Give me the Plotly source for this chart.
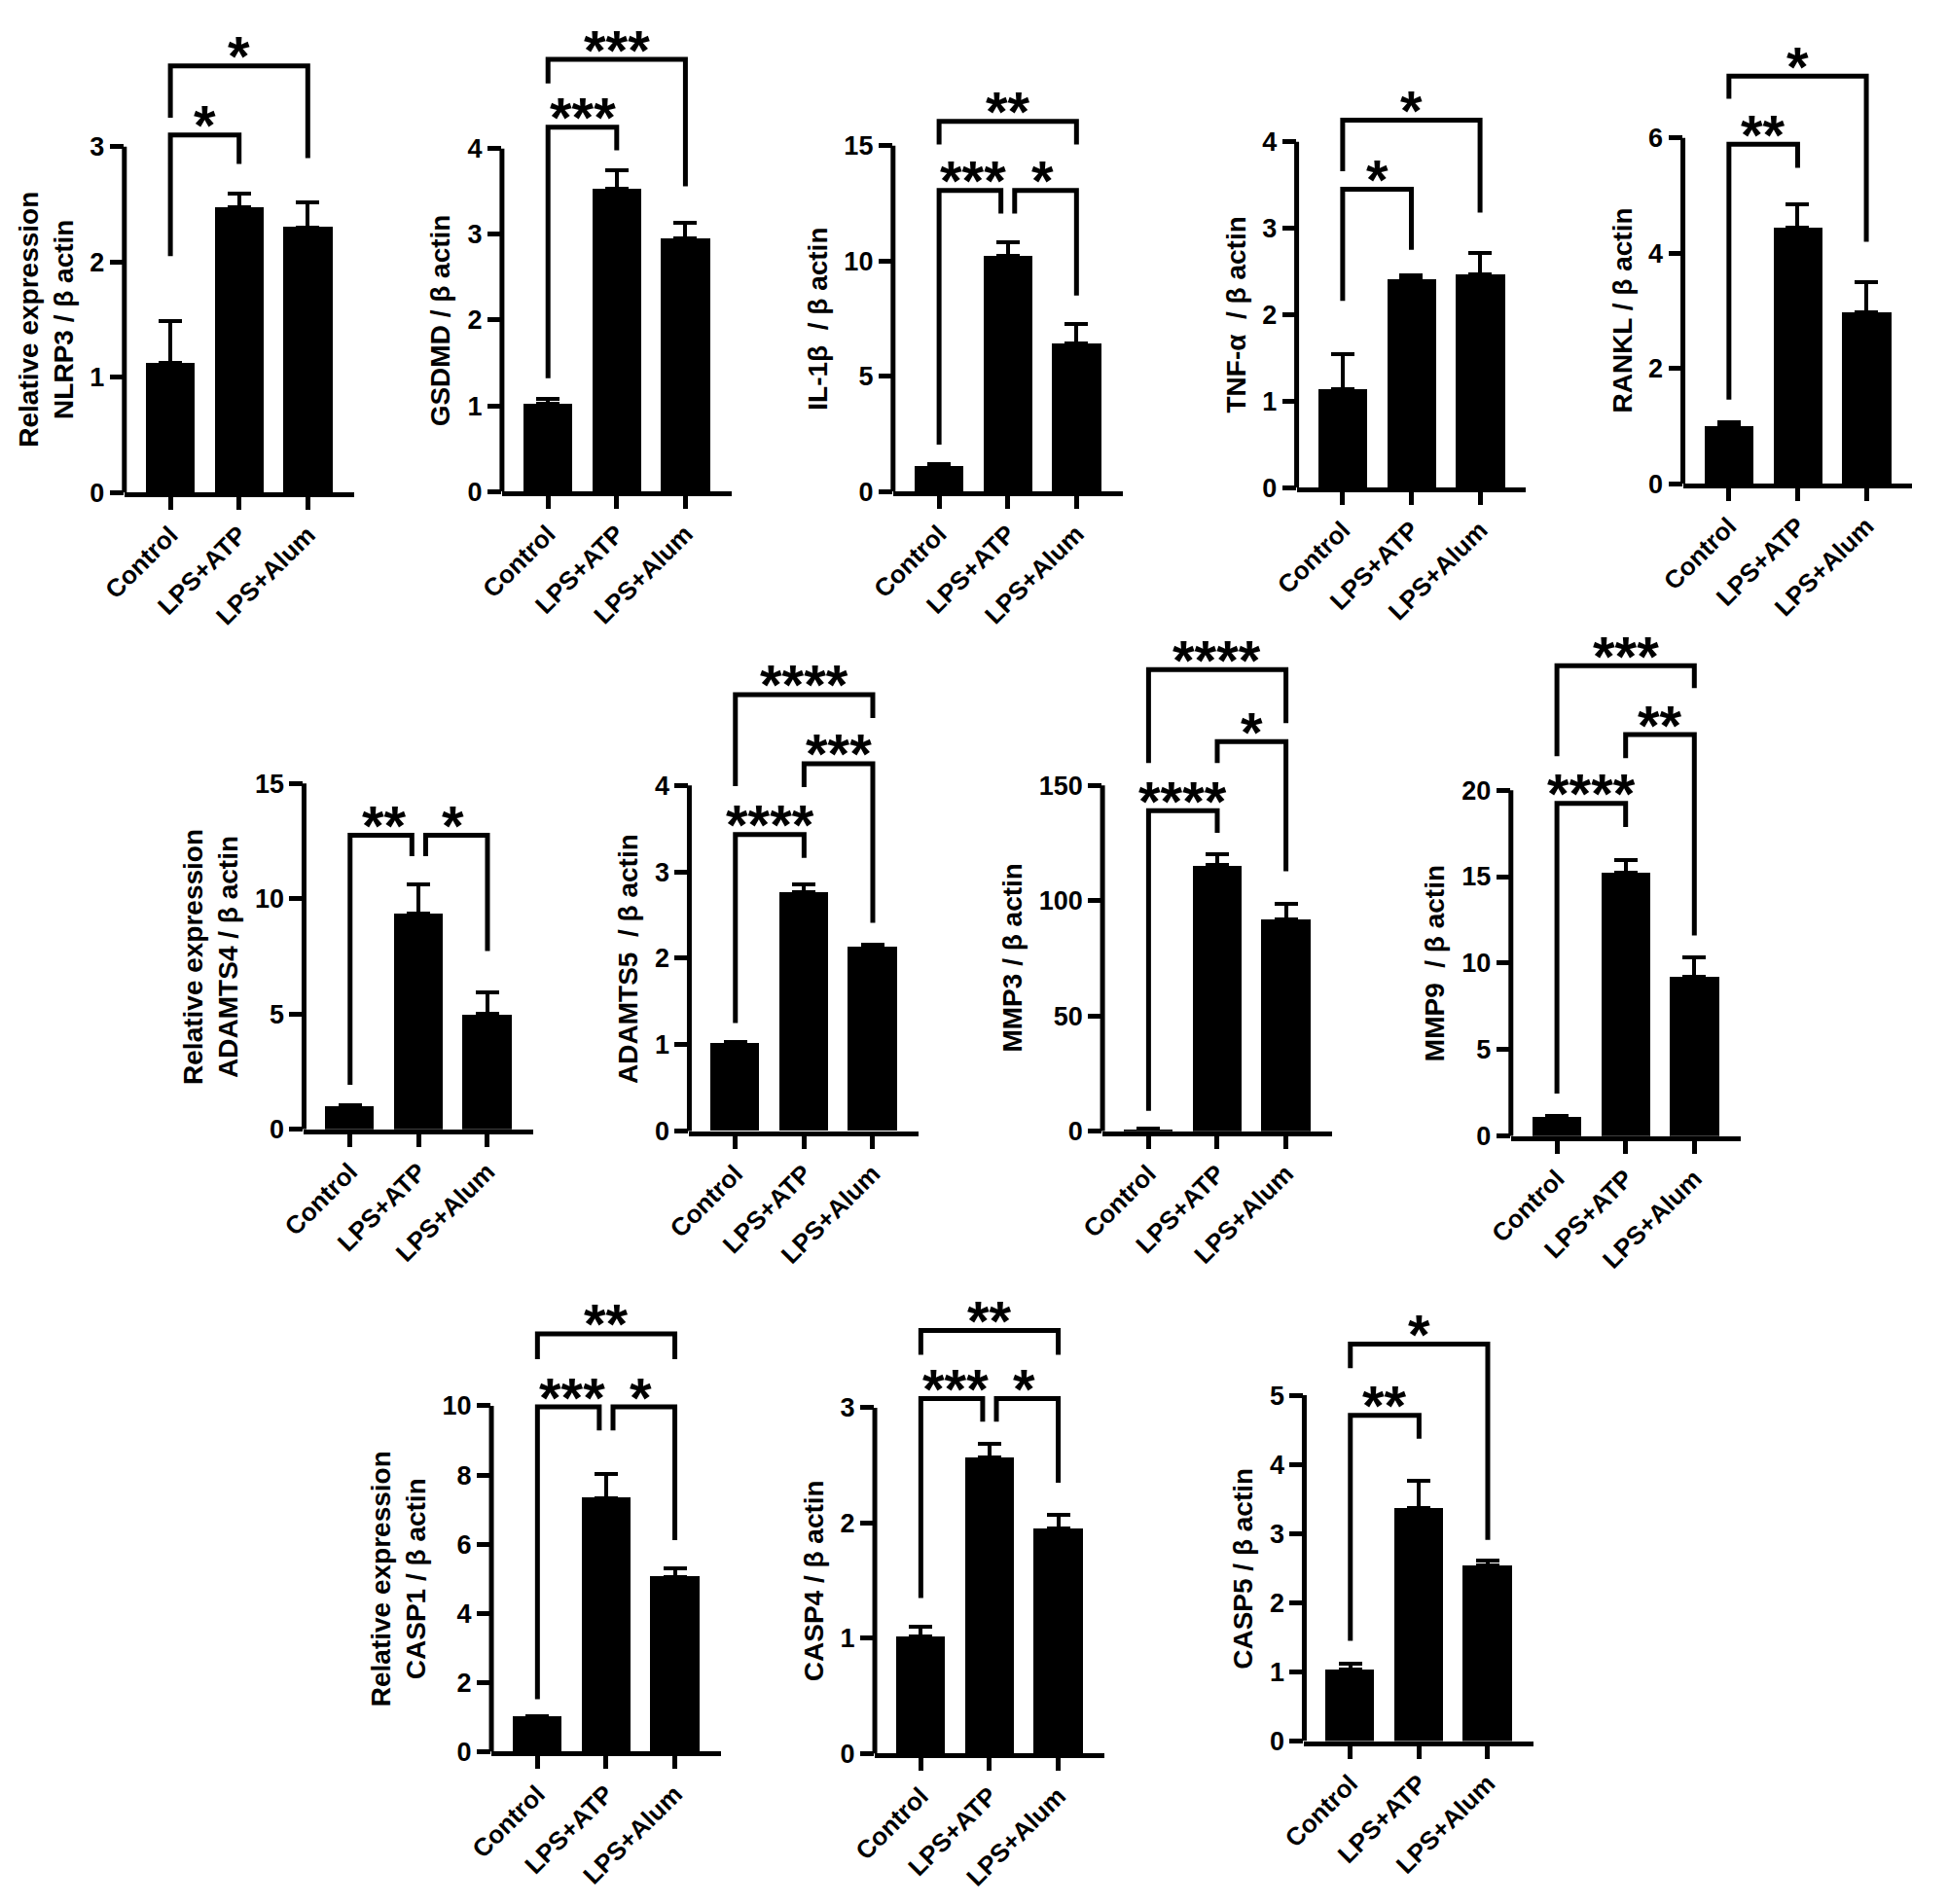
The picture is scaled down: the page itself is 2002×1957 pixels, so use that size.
import plotly.graph_objects as go

W, H = 2002, 1957
groups = ["Control", "LPS+ATP", "LPS+Alum"]

# bar means and upper error
nlrp3 = [1.12, 2.47, 2.30]
nlrp3_err = [0.37, 0.12, 0.22]
gsdmd = [1.02, 3.53, 2.95]
gsdmd_err = [0.06, 0.22, 0.19]
il1b = [1.10, 10.2, 6.40]
il1b_err = [0.10, 0.60, 0.85]
tnfa = [1.14, 2.41, 2.47]
tnfa_err = [0.40, 0.05, 0.24]
rankl = [1.01, 4.45, 2.98]
rankl_err = [0.05, 0.39, 0.52]
adamts4 = [1.00, 9.36, 5.00]
adamts4_err = [0.06, 1.28, 0.93]
adamts5 = [1.02, 2.76, 2.13]
adamts5_err = [0.01, 0.10, 0.03]
mmp3 = [1.0, 115.3, 92.0]
mmp3_err = [0.3, 4.7, 6.6]
mmp9 = [1.10, 15.24, 9.21]
mmp9_err = [0.08, 0.70, 1.10]
casp1 = [1.01, 7.33, 5.06]
casp1_err = [0.02, 0.70, 0.25]
casp4 = [1.02, 2.57, 1.95]
casp4_err = [0.08, 0.12, 0.12]
casp5 = [1.03, 3.37, 2.54]
casp5_err = [0.09, 0.40, 0.07]

# significance brackets: (group a, group b, bracket level, leg end a, leg end b, label)
nlrp3_sig = [(0, 1, 3.10, 2.05, 2.85, "*"), (0, 2, 3.70, 3.25, 2.90, "*")]
gsdmd_sig = [(0, 1, 4.25, 1.32, 3.98, "***"), (0, 2, 5.04, 4.76, 3.56, "***")]
il1b_sig = [(0, 1, 13.06, 2.03, 12.05, "***"), (1, 2, 13.06, 12.05, 8.5, "*"),
            (0, 2, 16.05, 15.05, 15.05, "**")]
tnfa_sig = [(0, 1, 3.45, 2.16, 2.75, "*"), (0, 2, 4.25, 3.66, 3.18, "*")]
rankl_sig = [(0, 1, 5.89, 1.46, 5.48, "**"), (0, 2, 7.07, 6.68, 4.20, "*")]
adamts4_sig = [(0, 1, 12.75, 1.93, 11.84, "**"), (1, 2, 12.75, 11.84, 7.73, "*")]
adamts5_sig = [(0, 1, 3.43, 1.25, 3.16, "****"), (1, 2, 4.25, 3.98, 2.41, "***"),
               (0, 2, 5.05, 3.99, 4.78, "****")]
mmp3_sig = [(0, 1, 139, 8.8, 129.4, "****"), (1, 2, 169, 159.7, 112.7, "*"),
            (0, 2, 200.2, 159.7, 177, "****")]
mmp9_sig = [(0, 1, 19.23, 2.46, 17.87, "****"), (1, 2, 23.21, 21.85, 11.6, "**"),
            (0, 2, 27.2, 21.97, 25.9, "***")]
casp1_sig = [(0, 1, 9.97, 1.52, 9.29, "***"), (1, 2, 9.97, 9.29, 6.12, "*"),
             (0, 2, 12.08, 11.35, 11.35, "**")]
casp4_sig = [(0, 1, 3.08, 1.35, 2.88, "***"), (1, 2, 3.08, 2.88, 2.35, "*"),
             (0, 2, 3.67, 3.46, 3.46, "**")]
casp5_sig = [(0, 1, 4.71, 1.45, 4.37, "**"), (0, 2, 5.74, 5.39, 2.91, "*")]

NB = "\u00a0"
# (y title, means, errors, brackets, top tick, tick step)
panels = [
    ("Relative expression<br>NLRP3 / β actin", nlrp3, nlrp3_err, nlrp3_sig, 3, 1),
    ("GSDMD / β actin", gsdmd, gsdmd_err, gsdmd_sig, 4, 1),
    ("IL-1β" + NB + " / β actin", il1b, il1b_err, il1b_sig, 15, 5),
    ("TNF-α" + NB + " / β actin", tnfa, tnfa_err, tnfa_sig, 4, 1),
    ("RANKL / β actin", rankl, rankl_err, rankl_sig, 6, 2),
    ("Relative expression<br>ADAMTS4 / β actin", adamts4, adamts4_err, adamts4_sig, 15, 5),
    ("ADAMTS5" + NB + " / β actin", adamts5, adamts5_err, adamts5_sig, 4, 1),
    ("MMP3 / β actin", mmp3, mmp3_err, mmp3_sig, 150, 50),
    ("MMP9" + NB + " / β actin", mmp9, mmp9_err, mmp9_sig, 20, 5),
    ("Relative expression<br>CASP1 / β actin", casp1, casp1_err, casp1_sig, 10, 2),
    ("CASP4 / β actin", casp4, casp4_err, casp4_sig, 3, 1),
    ("CASP5 / β actin", casp5, casp5_err, casp5_sig, 5, 1),
]

# pixel position of each panel: y-axis line x, zero line y
origins = [(126, 507), (519, 506), (926, 506), (1346, 502), (1748, 498),
           (313, 1168), (714, 1170), (1144, 1170), (1569, 1175),
           (508, 1814), (907, 1816), (1354, 1803)]
# the page draws the figure a little right/down of the window corner
DX, DY = -30, -8

AX_H = 359          # px from 0 to top tick
CAT_PX = 71.5       # px per group
XR = [-0.67, 2.67]
GAP = 0.1

TXT = "Liberation Sans, Arial, sans-serif"
NUM = "Liberation Sans Narrow, Arial Narrow, Liberation Sans, Arial, sans-serif"

fig = go.Figure()
layout = {}
annotations = []
shapes = []

for n, ((title, mean, err, sig, tmax, dt), (xl, y0)) in enumerate(zip(panels, origins), start=1):
    sfx = "" if n == 1 else str(n)
    xa, ya = "x" + sfx, "y" + sfx
    xl, y0 = xl + DX, y0 + DY
    ppu = AX_H / tmax
    ymax = max(max(b[2] for b in sig) + 50 / ppu, tmax * 1.03)
    wpx = (XR[1] - XR[0]) * CAT_PX
    layout["xaxis" + sfx] = dict(
        domain=[xl / W, (xl + wpx) / W], anchor=ya, range=XR,
        tickvals=[0, 1, 2], ticktext=groups, tickangle=-45,
        showline=True, linewidth=5, linecolor="black",
        ticks="outside", ticklen=13, tickwidth=5, tickcolor="black",
        showgrid=False, zeroline=False,
        tickfont=dict(family=TXT, size=26, color="black", weight="bold"),
    )
    layout["yaxis" + sfx] = dict(
        domain=[1 - y0 / H, min(1, 1 - (y0 - ymax * ppu) / H)], anchor=xa,
        range=[0, ymax], tickvals=list(range(0, tmax + 1, dt)),
        showline=False, ticks="outside", ticklen=14, tickwidth=5, tickcolor="black",
        showgrid=False, zeroline=False,
        tickfont=dict(family=NUM, size=27, color="black", weight="bold"),
    )
    # y axis line only up to the top tick
    shapes.append(dict(type="line", xref=xa + " domain", yref=ya, x0=0, x1=0,
                       y0=0, y1=tmax, line=dict(color="black", width=5)))

    fig.add_trace(go.Bar(
        x=[0, 1, 2], y=mean, width=0.71, xaxis=xa, yaxis=ya,
        marker=dict(color="black", line=dict(width=0)),
        error_y=dict(type="data", array=err, arrayminus=[0, 0, 0], symmetric=False,
                     color="black", thickness=4, width=12),
        showlegend=False, hoverinfo="skip",
    ))

    for a, b, top, la, lb, lab in sig:
        xa0, xb0 = float(a), float(b)
        for a2, b2, top2, *_ in sig:
            if top2 == top and (a2, b2) != (a, b):
                if b == a2:
                    xb0 -= GAP
                if a == b2:
                    xa0 += GAP
        fig.add_trace(go.Scatter(
            x=[xa0, xa0, xb0, xb0], y=[la, top, top, lb], mode="lines",
            line=dict(color="black", width=5), xaxis=xa, yaxis=ya,
            showlegend=False, hoverinfo="skip",
        ))
        annotations.append(dict(
            x=(a + b) / 2, y=top, xref=xa, yref=ya, text=lab, showarrow=False,
            yanchor="middle", yshift=10,
            font=dict(family=TXT, size=58, color="black", weight="bold"),
        ))

    # title sits left of the tick labels, so wider labels push it out
    ndig = len(str(tmax))
    annotations.append(dict(
        x=0, y=tmax / 2, xref=xa + " domain", yref=ya, text=title, showarrow=False,
        textangle=-90, xanchor="right", yanchor="middle", xshift=-(30 + 15 * ndig),
        font=dict(family=TXT, size=28, color="black", weight="bold"),
    ))

fig.update_layout(
    **layout,
    width=W, height=H, autosize=False,
    margin=dict(l=0, r=0, t=0, b=0),
    paper_bgcolor="white", plot_bgcolor="rgba(0,0,0,0)",
    bargap=0, annotations=annotations, shapes=shapes,
)

fig.write_html("out.html")
